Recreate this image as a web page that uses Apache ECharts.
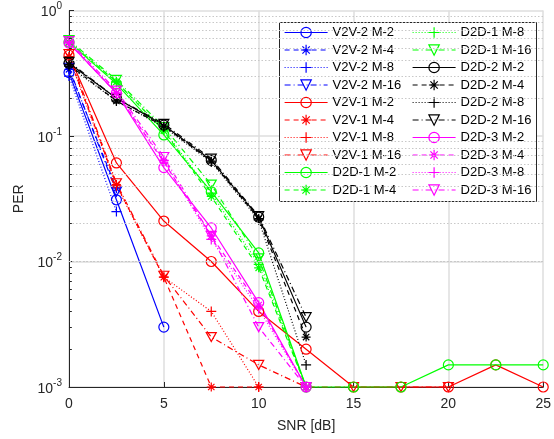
<!DOCTYPE html>
<html>
<head>
<meta charset="utf-8">
<script src="https://cdn.jsdelivr.net/npm/echarts@6/dist/echarts.min.js"></script>
<style>
html,body{margin:0;padding:0;background:#fff;}
#c{width:554px;height:439px;}
</style>
</head>
<body>
<div id="c"></div>
<script>
// ---- data ----
var snr = [0, 2.5, 5, 7.5, 10, 12.5, 15, 17.5, 20, 22.5, 25];
var xTicks = [0, 5, 10, 15, 20, 25];
var yTicks = [0.001, 0.01, 0.1, 1];
var minorTicks = [0.002,0.003,0.004,0.005,0.006,0.007,0.008,0.009,
                  0.02,0.03,0.04,0.05,0.06,0.07,0.08,0.09,
                  0.2,0.3,0.4,0.5,0.6,0.7,0.8,0.9];

var v2v2_m2  = [0.32, 0.031, 0.003];
var v2v2_m4  = [0.34, 0.038];
var v2v2_m8  = [0.30, 0.025];
var v2v2_m16 = [0.35, 0.036];
var v2v1_m2  = [0.44, 0.061, 0.021, 0.010, 0.004, 0.002, 0.001, 0.001, 0.001, 0.0015, 0.001];
var v2v1_m4  = [0.43, 0.041, 0.0075, 0.001, 0.001];
var v2v1_m8  = [0.42, 0.040, 0.0075, 0.004, 0.001];
var v2v1_m16 = [0.45, 0.042, 0.0077, 0.0025, 0.0015, 0.001, 0.001, 0.001, 0.001];
var d2d1_m2  = [0.56, 0.26, 0.102, 0.036, 0.0117, 0.001, 0.001, 0.001, 0.0015, 0.0015, 0.0015];
var d2d1_m4  = [0.56, 0.27, 0.110, 0.033, 0.0089, 0.001];
var d2d1_m8  = [0.57, 0.27, 0.112, 0.035, 0.0095, 0.001];
var d2d1_m16 = [0.58, 0.28, 0.118, 0.041, 0.0106, 0.001];
var d2d2_m2  = [0.38, 0.20, 0.122, 0.064, 0.0226, 0.003];
var d2d2_m4  = [0.37, 0.19, 0.120, 0.063, 0.0220, 0.0025];
var d2d2_m8  = [0.36, 0.19, 0.118, 0.062, 0.0215, 0.0015];
var d2d2_m16 = [0.39, 0.20, 0.125, 0.066, 0.0230, 0.0036];
var d2d3_m2  = [0.55, 0.22, 0.056, 0.0185, 0.0047, 0.001];
var d2d3_m4  = [0.55, 0.22, 0.062, 0.016, 0.0045, 0.001];
var d2d3_m8  = [0.56, 0.22, 0.064, 0.015, 0.0042, 0.001];
var d2d3_m16 = [0.57, 0.23, 0.068, 0.016, 0.0030, 0.001];

var names = ['V2V-2 M-2','V2V-2 M-4','V2V-2 M-8','V2V-2 M-16',
             'V2V-1 M-2','V2V-1 M-4','V2V-1 M-8','V2V-1 M-16',
             'D2D-1 M-2','D2D-1 M-4','D2D-1 M-8','D2D-1 M-16',
             'D2D-2 M-2','D2D-2 M-4','D2D-2 M-8','D2D-2 M-16',
             'D2D-3 M-2','D2D-3 M-4','D2D-3 M-8','D2D-3 M-16'];
var values = [v2v2_m2, v2v2_m4, v2v2_m8, v2v2_m16,
              v2v1_m2, v2v1_m4, v2v1_m8, v2v1_m16,
              d2d1_m2, d2d1_m4, d2d1_m8, d2d1_m16,
              d2d2_m2, d2d2_m4, d2d2_m8, d2d2_m16,
              d2d3_m2, d2d3_m4, d2d3_m8, d2d3_m16];

// ---- styles ----
var groupColors = ['#0000ff', '#ff0000', '#00ff00', '#000000', '#ff00ff'];
var dashTypes = ['solid', [5, 4], [1, 2], [6, 3, 1, 3]];
var symCircle = 'path://M10,0 A10,10 0 1 1 -10,0 A10,10 0 1 1 10,0 Z';
var symStar = 'path://M0,-10 L0,10 M-10,0 L10,0 M-7.07,-7.07 L7.07,7.07 M-7.07,7.07 L7.07,-7.07';
var symPlus = 'path://M0,-10 L0,10 M-10,0 L10,0';
var symTri = 'path://M-10,-8.66 L10,-8.66 L0,8.66 Z';
var symbols = [symCircle, symStar, symPlus, symTri];
var symSizes = [10, 9, 10, [10, 9]];

var series = [];
for (var i = 0; i < names.length; i++) {
  var g = Math.floor(i / 4), k = i % 4;
  var col = groupColors[g];
  var d = [];
  for (var j = 0; j < values[i].length; j++) d.push([snr[j], values[i][j]]);
  series.push({
    name: names[i], type: 'line', data: d, clip: false,
    symbol: symbols[k], symbolSize: symSizes[k], showAllSymbol: true,
    lineStyle: { color: col, width: 1.2, type: dashTypes[k] },
    itemStyle: { color: 'rgba(0,0,0,0)', borderColor: col, borderWidth: 1.2 },
    emphasis: { disabled: true }, animation: false, z: 2
  });
}
// minor grid lines (dotted), drawn through the axis scale
series.push({
  name: 'minor', type: 'line', data: [], silent: true, animation: false, z: 1,
  markLine: {
    silent: true, symbol: ['none', 'none'], label: { show: false }, animation: false,
    lineStyle: { color: '#c8c8c8', width: 1, type: [1.5, 2] },
    data: minorTicks.map(function (v) { return { yAxis: v }; })
  }
});
// minor ticks on the y axis
series.push({
  name: 'minorTicks', type: 'line', data: [], silent: true, animation: false, z: 3,
  markLine: {
    silent: true, symbol: ['none', 'none'], label: { show: false }, animation: false,
    lineStyle: { color: '#262626', width: 1, type: 'solid' },
    data: minorTicks.map(function (v) { return [{ coord: [0, v] }, { coord: [0.15, v] }]; })
  }
});

var legendCommon = {
  orient: 'vertical', padding: 0, itemWidth: 43, itemHeight: 13, itemGap: 4.5,
  textStyle: { fontSize: 13, color: '#000', fontFamily: 'Liberation Sans, Arial, sans-serif' },
  itemStyle: { borderWidth: 1.2 }, lineStyle: { width: 1.2 }, selectedMode: false, z: 5
};

var option = {
  backgroundColor: '#fff',
  animation: false,
  grid: { left: 69, right: 6, top: 10.5, bottom: 52, containLabel: false },
  xAxis: {
    type: 'value', min: 0, max: 25, interval: 5,
    name: 'SNR [dB]', nameLocation: 'middle', nameGap: 32,
    nameTextStyle: { fontSize: 14, color: '#262626', fontFamily: 'Liberation Sans, Arial, sans-serif' },
    axisLine: { show: true, lineStyle: { color: '#262626', width: 1 } },
    axisTick: { show: true, inside: true, length: 5, lineStyle: { color: '#262626' } },
    axisLabel: { fontSize: 14, color: '#262626', margin: 10, fontFamily: 'Liberation Sans, Arial, sans-serif',
      formatter: function (v) { return xTicks.indexOf(v) >= 0 ? String(v) : ''; } },
    splitLine: { show: true, lineStyle: { color: '#dedede', width: 1.5 } }
  },
  yAxis: {
    type: 'log', logBase: 10, min: 0.001, max: 1, splitNumber: 3,
    name: 'PER', nameLocation: 'middle', nameGap: 41,
    nameTextStyle: { fontSize: 14, color: '#262626', fontFamily: 'Liberation Sans, Arial, sans-serif' },
    axisLine: { show: true, lineStyle: { color: '#262626', width: 1 } },
    axisTick: { show: true, inside: true, length: 5, lineStyle: { color: '#262626' } },
    axisLabel: {
      margin: 7, color: '#262626', fontFamily: 'Liberation Sans, Arial, sans-serif',
      formatter: function (v) {
        var e = Math.round(Math.log10(v));
        return '{b|10}{s|' + e + '}';
      },
      rich: {
        b: { fontSize: 14, color: '#262626', fontFamily: 'Liberation Sans, Arial, sans-serif', verticalAlign: 'bottom', lineHeight: 18 },
        s: { fontSize: 10, color: '#262626', fontFamily: 'Liberation Sans, Arial, sans-serif', verticalAlign: 'top', lineHeight: 18, padding: [0, 0, 10, 0] }
      }
    },
    splitLine: { show: true, lineStyle: { color: '#dedede', width: 1.5 } }
  },
  graphic: [{
    type: 'rect', z: 4, silent: true,
    shape: { x: 279.5, y: 22.5, width: 257, height: 179 },
    style: { fill: '#fff', stroke: '#262626', lineWidth: 1 }
  }],
  legend: [
    Object.assign({}, legendCommon, { left: 284, top: 26, data: names.slice(0, 10) }),
    Object.assign({}, legendCommon, { left: 412, top: 26, data: names.slice(10, 20) })
  ],
  series: series
};

var chart = echarts.init(document.getElementById('c'), null, { renderer: 'canvas' });
chart.setOption(option);
</script>
</body>
</html>
